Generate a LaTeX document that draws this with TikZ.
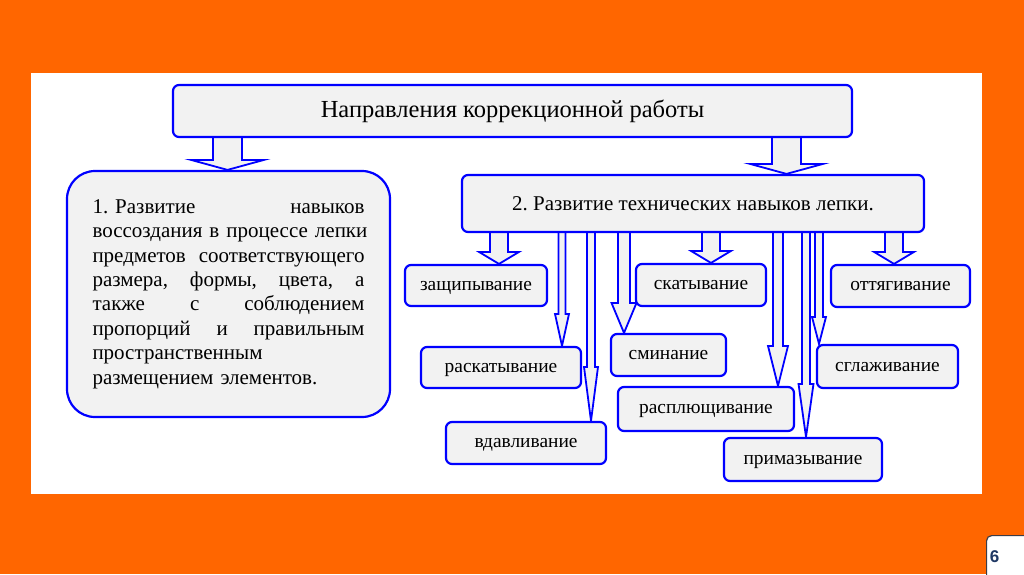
\documentclass[tikz,border=0pt]{standalone}
\usepackage{fontspec}
\setmainfont{Liberation Serif}
\newfontfamily\numfont{Liberation Sans}
\usetikzlibrary{calc}
\frenchspacing
\pgfdeclarelayer{back}
\pgfdeclarelayer{conn}
\pgfsetlayers{back,conn,main}
\definecolor{orng}{RGB}{255,102,0}
\definecolor{boxfill}{RGB}{242,242,242}
\definecolor{bblue}{RGB}{0,0,255}
\definecolor{numblue}{RGB}{31,56,100}
\definecolor{numframe}{RGB}{60,60,70}
\newcommand{\js}{\ \hfill}
% block arrow: #1 centre x, #2 source node, #3 target node, #4 shaft half width, #5 head half width, #6 head length
\newcommand{\blockarr}[6]{%
  \draw[arr] let \p1=(#2.south), \p2=(#3.north) in
    ({#1-#4},\y1) -- ({#1-#4},{\y2+#6pt}) -- ({#1-#5},{\y2+#6pt}) -- (#1,\y2)
    -- ({#1+#5},{\y2+#6pt}) -- ({#1+#4},{\y2+#6pt}) -- ({#1+#4},\y1);}
\begin{document}
\begin{tikzpicture}[x=1pt,y=-1pt,
  box/.style={draw=bblue, line width=2.2pt, fill=boxfill, rounded corners=6pt, inner sep=0pt},
  subbox/.style={box, font=\fontsize{19.4}{23}\selectfont, text height=9pt, text depth=0pt},
  arr/.style={draw=bblue, line width=1.8pt, fill=boxfill, line join=miter}]
\begin{pgfonlayer}{back}
\fill[orng] (0,0) rectangle (1024,574);
\fill[white] (31,73) rectangle (982,494);
\end{pgfonlayer}
\useasboundingbox (0,0) rectangle (1024,574);

\node[box, minimum width=679pt, minimum height=52pt, font=\fontsize{24.5}{28}\selectfont] (top) at (512.5,111) {Направления коррекционной работы};
\node[box, rounded corners=28pt, minimum width=323pt, minimum height=246pt, text width=272pt, align=left, font=\fontsize{21}{24.4}\selectfont] (left) at (228.5,294)
 {\makebox[272pt][l]{1.\ Развитие\js навыков}\\
  \makebox[272pt][l]{воссоздания\js в\js процессе\js лепки}\\
  \makebox[272pt][l]{предметов\js соответствующего}\\
  \makebox[272pt][l]{размера,\js формы,\js цвета,\js а}\\
  \makebox[272pt][l]{также\js с\js соблюдением}\\
  \makebox[272pt][l]{пропорций\js и\js правильным}\\
  пространственным\\
  размещением элементов.};
\node[box, minimum width=462pt, minimum height=57pt, font=\fontsize{21}{25}\selectfont] (b2) at (693,203.5) {2. Развитие технических навыков лепки.};

\node[subbox, minimum width=142pt, minimum height=41pt] (zash) at (476,285.5) {защипывание};
\node[subbox, minimum width=130pt, minimum height=42pt] (skat) at (701,285) {скатывание};
\node[subbox, minimum width=139pt, minimum height=42pt] (ott) at (900.5,286) {оттягивание};
\node[subbox, minimum width=160pt, minimum height=41pt] (rask) at (501,367.5) {раскатывание};
\node[subbox, minimum width=115pt, minimum height=42pt] (smin) at (668.5,355) {сминание};
\node[subbox, minimum width=141pt, minimum height=43pt] (sgl) at (887.5,366.5) {сглаживание};
\node[subbox, minimum width=160pt, minimum height=42pt] (vdav) at (526,443) {вдавливание};
\node[subbox, minimum width=176pt, minimum height=44pt] (rasp) at (706,409) {расплющивание};
\node[subbox, minimum width=158pt, minimum height=43pt] (prim) at (803,459.5) {примазывание};

% connectors (on a layer under the boxes)
\begin{pgfonlayer}{conn}
\blockarr{227.5}{top}{left}{14.5}{36.5}{10}
\blockarr{786.5}{top}{b2}{14.5}{36.5}{10}
\blockarr{499}{b2}{zash}{9}{20}{12}
\blockarr{711}{b2}{skat}{9}{20}{12}
\blockarr{894}{b2}{ott}{9}{20}{12}
\blockarr{562}{b2}{rask}{3.5}{7}{32}
\blockarr{591}{b2}{vdav}{4}{7}{54}
\blockarr{624}{b2}{smin}{6}{12.5}{30}
\blockarr{778}{b2}{rasp}{5}{10}{40}
\blockarr{806}{b2}{prim}{4}{7.5}{53}
\blockarr{819}{b2}{sgl}{4}{7}{27}
\end{pgfonlayer}

% page number
\node[draw=numframe, line width=1.2pt, fill=white, rounded corners=5pt, minimum width=46pt, minimum height=46pt, anchor=north west, inner sep=0pt] (pg) at (986,535) {};
\node[font=\numfont\bfseries\fontsize{17}{20}\selectfont, text=numblue, inner sep=0pt] (pgnum) at (994.5,557) {6};
\end{tikzpicture}
\end{document}
